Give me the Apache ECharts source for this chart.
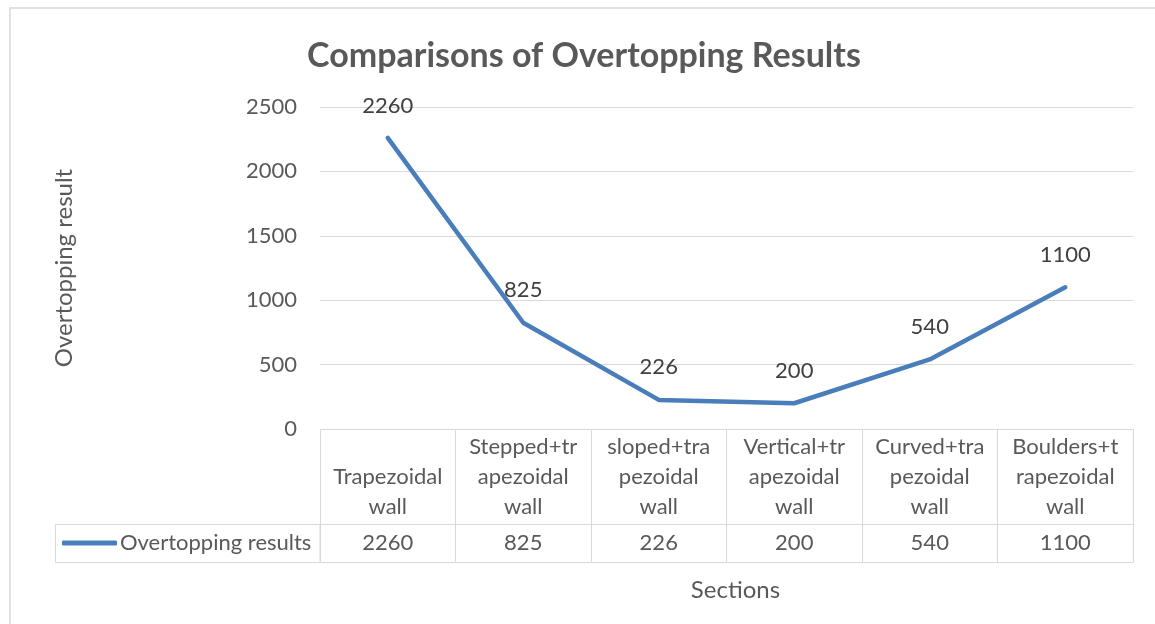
<!DOCTYPE html>
<html>
<head>
<meta charset="utf-8">
<script src="https://cdn.jsdelivr.net/npm/echarts@6/dist/echarts.min.js"></script>
<style>
html,body{margin:0;padding:0;background:#fff;}
#chart{width:1155px;height:624px;}
</style>
</head>
<body>
<div id="chart"></div>
<script>
const categories = ['Trapezoidal\nwall', 'Stepped+tr\napezoidal\nwall', 'sloped+tra\npezoidal\nwall', 'Vertical+tr\napezoidal\nwall', 'Curved+tra\npezoidal\nwall', 'Boulders+t\nrapezoidal\nwall'];
const overtopping = [2260, 825, 226, 200, 540, 1100];
const yTicks = { min: 0, max: 2500, interval: 500 };
const seriesName = 'Overtopping results';

const FONT = 'Lato';
const FS = 22;
const LINE_COLOR = '#4a7ebb';
const GRID_LEFT = 320, GRID_RIGHT = 22, GRID_TOP = 107, GRID_H = 322;
const HEADER_H = 95, TABLE_H = 133;
const BORDER = '#d9d9d9';

const chart = echarts.init(document.getElementById('chart'), null, { renderer: 'canvas' });
chart.setOption({
  backgroundColor: '#fff',
  animation: false,
  textStyle: { fontFamily: FONT },
  title: {
    text: 'Comparisons of Overtopping Results',
    left: 302, top: 34,
    textStyle: { fontFamily: FONT, fontSize: 34, fontWeight: 'bold', color: '#595959' }
  },
  legend: {
    data: [{ name: seriesName, icon: 'roundRect', itemStyle: { color: LINE_COLOR, opacity: 1 } }],
    left: 62, top: GRID_TOP + GRID_H + HEADER_H + 8,
    itemWidth: 55, itemHeight: 5, padding: 0,
    itemStyle: { color: LINE_COLOR, opacity: 1, borderWidth: 0 },
    textStyle: { fontFamily: FONT, fontSize: FS, color: '#595959', padding: [0, 0, 0, -2] }
  },
  grid: { left: GRID_LEFT, right: GRID_RIGHT, top: GRID_TOP, height: GRID_H, containLabel: false },
  xAxis: [
    {
      type: 'category', data: categories, boundaryGap: true, position: 'bottom',
      axisLine: { show: true, lineStyle: { color: BORDER, width: 1 } },
      axisTick: { show: true, interval: 0, alignWithLabel: false, length: TABLE_H, lineStyle: { color: BORDER } },
      axisLabel: { interval: 0, fontFamily: FONT, fontSize: FS, color: '#595959', lineHeight: 30, verticalAlign: 'bottom', margin: 93 }
    },
    {
      type: 'category', data: overtopping.map(String), boundaryGap: true, position: 'bottom', offset: HEADER_H,
      axisLine: { show: true, lineStyle: { color: BORDER, width: 1 } },
      axisTick: { show: false },
      axisLabel: { interval: 0, fontFamily: FONT, fontSize: FS, color: '#595959', lineHeight: 24, verticalAlign: 'top', margin: 7 }
    },
    {
      type: 'category', data: categories, boundaryGap: true, position: 'bottom', offset: TABLE_H,
      axisLine: { show: true, lineStyle: { color: BORDER, width: 1 } },
      axisTick: { show: false }, axisLabel: { show: false },
      name: 'Sections', nameLocation: 'middle', nameGap: 16,
      nameTextStyle: { fontFamily: FONT, fontSize: 24, color: '#595959', padding: [0, 0, 0, 18] }
    }
  ],
  yAxis: {
    type: 'value', min: yTicks.min, max: yTicks.max, interval: yTicks.interval,
    axisLine: { show: false }, axisTick: { show: false },
    splitLine: { show: true, lineStyle: { color: BORDER, width: 1 } },
    axisLabel: { fontFamily: FONT, fontSize: FS, color: '#595959', margin: 23, formatter: v => String(v) },
    name: 'Overtopping result', nameLocation: 'middle', nameRotate: 90, nameGap: 244,
    nameTextStyle: { fontFamily: FONT, fontSize: 24, color: '#595959' }
  },
  series: [{
    name: seriesName, type: 'line', xAxisIndex: 0, data: overtopping,
    showSymbol: true, symbol: 'circle', symbolSize: 1, smooth: false,
    lineStyle: { color: LINE_COLOR, width: 4.5, cap: 'round', join: 'round' },
    itemStyle: { color: LINE_COLOR, opacity: 0 },
    label: { show: true, position: 'top', distance: 21, fontFamily: FONT, fontSize: FS, color: '#404040', opacity: 1 }
  }],
  graphic: [
    { type: 'rect', shape: { x: 10, y: 8, width: 1170, height: 640 }, style: { fill: 'none', stroke: BORDER, lineWidth: 1.5 }, silent: true },
    { type: 'rect', shape: { x: 55.5, y: GRID_TOP + GRID_H + HEADER_H + 0.5, width: GRID_LEFT - 55.5, height: TABLE_H - HEADER_H }, style: { fill: 'none', stroke: BORDER, lineWidth: 1 }, silent: true }
  ]
});
</script>
</body>
</html>
